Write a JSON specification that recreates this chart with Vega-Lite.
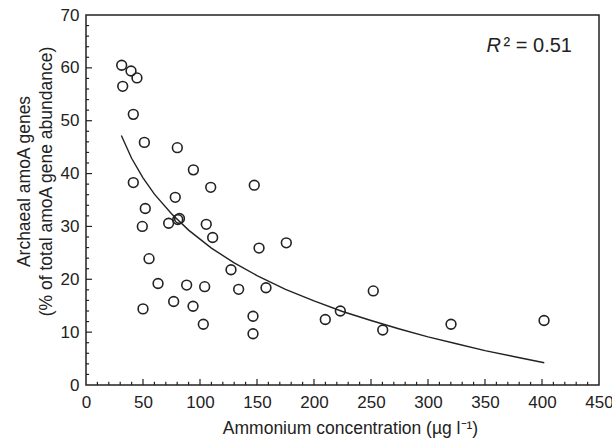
{
  "$schema": "https://vega.github.io/schema/vega-lite/v6.json",
  "width": 513,
  "height": 370,
  "autosize": {"type": "none"},
  "padding": {"left": 86, "top": 15, "right": 13, "bottom": 56},
  "background": "white",
  "config": {
    "view": {"stroke": "#222", "strokeWidth": 1.5},
    "font": "Liberation Sans",
    "axis": {
      "grid": false,
      "ticks": false,
      "domain": false,
      "labelColor": "#222",
      "titleColor": "#222",
      "labelFontSize": 17,
      "titleFontSize": 17.5,
      "titleFontWeight": "normal",
      "labelOverlap": false,
      "labelFlush": false
    }
  },
  "datasets": {
    "pts": [
      {"ammonium": 31.3, "archaeal": 60.5},
      {"ammonium": 39.5, "archaeal": 59.4},
      {"ammonium": 44.7, "archaeal": 58.1},
      {"ammonium": 32.2, "archaeal": 56.5},
      {"ammonium": 41.5, "archaeal": 51.2},
      {"ammonium": 51.2, "archaeal": 45.9},
      {"ammonium": 80.1, "archaeal": 44.9},
      {"ammonium": 94.2, "archaeal": 40.7},
      {"ammonium": 41.5, "archaeal": 38.3},
      {"ammonium": 109.4, "archaeal": 37.4},
      {"ammonium": 147.6, "archaeal": 37.8},
      {"ammonium": 78.3, "archaeal": 35.5},
      {"ammonium": 52.0, "archaeal": 33.4},
      {"ammonium": 49.4, "archaeal": 30.0},
      {"ammonium": 72.5, "archaeal": 30.6},
      {"ammonium": 80.5, "archaeal": 31.3},
      {"ammonium": 82.0, "archaeal": 31.5},
      {"ammonium": 105.5, "archaeal": 30.4},
      {"ammonium": 111.1, "archaeal": 27.9},
      {"ammonium": 55.3, "archaeal": 23.9},
      {"ammonium": 63.2, "archaeal": 19.2},
      {"ammonium": 88.3, "archaeal": 18.9},
      {"ammonium": 104.1, "archaeal": 18.6},
      {"ammonium": 127.2, "archaeal": 21.8},
      {"ammonium": 133.9, "archaeal": 18.1},
      {"ammonium": 76.9, "archaeal": 15.8},
      {"ammonium": 93.9, "archaeal": 14.9},
      {"ammonium": 50.0, "archaeal": 14.4},
      {"ammonium": 102.9, "archaeal": 11.5},
      {"ammonium": 146.5, "archaeal": 13.0},
      {"ammonium": 146.5, "archaeal": 9.7},
      {"ammonium": 151.8, "archaeal": 25.9},
      {"ammonium": 175.7, "archaeal": 26.9},
      {"ammonium": 157.9, "archaeal": 18.4},
      {"ammonium": 209.9, "archaeal": 12.4},
      {"ammonium": 223.1, "archaeal": 14.0},
      {"ammonium": 252.0, "archaeal": 17.8},
      {"ammonium": 260.3, "archaeal": 10.4},
      {"ammonium": 320.2, "archaeal": 11.5},
      {"ammonium": 401.8, "archaeal": 12.2}
    ],
    "fit": [
      {"ammonium": 31, "archaeal": 47.2},
      {"ammonium": 40, "archaeal": 42.9},
      {"ammonium": 50, "archaeal": 39.2},
      {"ammonium": 60, "archaeal": 36.1},
      {"ammonium": 75, "archaeal": 32.4},
      {"ammonium": 90, "archaeal": 29.3},
      {"ammonium": 110, "archaeal": 25.9},
      {"ammonium": 130, "archaeal": 23.1},
      {"ammonium": 150, "archaeal": 20.7},
      {"ammonium": 175, "archaeal": 18.1},
      {"ammonium": 200, "archaeal": 15.9},
      {"ammonium": 225, "archaeal": 13.9},
      {"ammonium": 250, "archaeal": 12.2},
      {"ammonium": 275, "archaeal": 10.6},
      {"ammonium": 300, "archaeal": 9.1},
      {"ammonium": 325, "archaeal": 7.8},
      {"ammonium": 350, "archaeal": 6.5},
      {"ammonium": 375, "archaeal": 5.4},
      {"ammonium": 402, "archaeal": 4.2}
    ],
    "xmajor": [{"v": 50}, {"v": 100}, {"v": 150}, {"v": 200}, {"v": 250}, {"v": 300}, {"v": 350}, {"v": 400}],
    "xminor": [{"v":10},{"v":20},{"v":30},{"v":40},{"v":60},{"v":70},{"v":80},{"v":90},{"v":110},{"v":120},{"v":130},{"v":140},{"v":160},{"v":170},{"v":180},{"v":190},{"v":210},{"v":220},{"v":230},{"v":240},{"v":260},{"v":270},{"v":280},{"v":290},{"v":310},{"v":320},{"v":330},{"v":340},{"v":360},{"v":370},{"v":380},{"v":390},{"v":410},{"v":420},{"v":430},{"v":440}],
    "ymajor": [{"v": 10}, {"v": 20}, {"v": 30}, {"v": 40}, {"v": 50}, {"v": 60}],
    "yminor": [{"v":2},{"v":4},{"v":6},{"v":8},{"v":12},{"v":14},{"v":16},{"v":18},{"v":22},{"v":24},{"v":26},{"v":28},{"v":32},{"v":34},{"v":36},{"v":38},{"v":42},{"v":44},{"v":46},{"v":48},{"v":52},{"v":54},{"v":56},{"v":58},{"v":62},{"v":64},{"v":66},{"v":68}],
    "note": [{"r": "R", "rest": "² = 0.51"}]
  },
  "resolve": {"axis": {"x": "independent", "y": "independent"}},
  "layer": [
    {
      "data": {"name": "xmajor"},
      "mark": {"type": "rule", "color": "#222", "strokeWidth": 1.2},
      "encoding": {
        "x": {"field": "v", "type": "quantitative", "scale": {"domain": [0, 450], "nice": false, "zero": false}, "axis": null},
        "y": {"datum": 0, "type": "quantitative", "scale": {"domain": [0, 70], "nice": false, "zero": false}, "axis": null},
        "y2": {"datum": 1.15}
      }
    },
    {
      "data": {"name": "xminor"},
      "mark": {"type": "rule", "color": "#222", "strokeWidth": 1.2},
      "encoding": {
        "x": {"field": "v", "type": "quantitative", "scale": {"domain": [0, 450], "nice": false, "zero": false}, "axis": null},
        "y": {"datum": 0, "type": "quantitative", "scale": {"domain": [0, 70], "nice": false, "zero": false}, "axis": null},
        "y2": {"datum": 0.6}
      }
    },
    {
      "data": {"name": "ymajor"},
      "mark": {"type": "rule", "color": "#222", "strokeWidth": 1.2},
      "encoding": {
        "y": {"field": "v", "type": "quantitative", "scale": {"domain": [0, 70], "nice": false, "zero": false}, "axis": null},
        "x": {"datum": 0, "type": "quantitative", "scale": {"domain": [0, 450], "nice": false, "zero": false}, "axis": null},
        "x2": {"datum": 5.3}
      }
    },
    {
      "data": {"name": "yminor"},
      "mark": {"type": "rule", "color": "#222", "strokeWidth": 1.2},
      "encoding": {
        "y": {"field": "v", "type": "quantitative", "scale": {"domain": [0, 70], "nice": false, "zero": false}, "axis": null},
        "x": {"datum": 0, "type": "quantitative", "scale": {"domain": [0, 450], "nice": false, "zero": false}, "axis": null},
        "x2": {"datum": 2.7}
      }
    },
    {
      "data": {"name": "fit"},
      "mark": {"type": "line", "color": "#222", "strokeWidth": 1.4},
      "encoding": {
        "x": {"field": "ammonium", "type": "quantitative", "scale": {"domain": [0, 450], "nice": false, "zero": false}, "axis": null},
        "y": {"field": "archaeal", "type": "quantitative", "scale": {"domain": [0, 70], "nice": false, "zero": false}, "axis": null}
      }
    },
    {
      "data": {"name": "pts"},
      "mark": {"type": "point", "shape": "circle", "filled": false, "size": 95, "stroke": "#222", "strokeWidth": 1.6, "opacity": 1},
      "encoding": {
        "x": {
          "field": "ammonium", "type": "quantitative",
          "scale": {"domain": [0, 450], "nice": false, "zero": false},
          "axis": {
            "orient": "bottom",
            "title": "Ammonium concentration (µg l⁻¹)",
            "values": [0,50,100,150,200,250,300,350,400,450],
            "labelPadding": 9,
            "titlePadding": 9,
            "titleX": 264
          }
        },
        "y": {
          "field": "archaeal", "type": "quantitative",
          "scale": {"domain": [0, 70], "nice": false, "zero": false},
          "axis": {
            "orient": "left",
            "title": ["Archaeal amoA genes", "(% of total amoA gene abundance)"],
            "titleLineHeight": 22,
            "values": [0,10,20,30,40,50,60,70],
            "labelPadding": 7,
            "titlePadding": 5,
            "titleY": 166
          }
        }
      }
    },
    {
      "data": {"name": "note"},
      "mark": {"type": "text", "fontSize": 20, "fontStyle": "italic", "align": "right", "baseline": "middle", "color": "#222"},
      "encoding": {
        "x": {"datum": 364, "type": "quantitative", "scale": {"domain": [0, 450], "nice": false, "zero": false}, "axis": null},
        "y": {"datum": 64.2, "type": "quantitative", "scale": {"domain": [0, 70], "nice": false, "zero": false}, "axis": null},
        "text": {"field": "r"}
      }
    },
    {
      "data": {"name": "note"},
      "mark": {"type": "text", "fontSize": 20, "align": "right", "baseline": "middle", "color": "#222"},
      "encoding": {
        "x": {"datum": 426.3, "type": "quantitative", "scale": {"domain": [0, 450], "nice": false, "zero": false}, "axis": null},
        "y": {"datum": 64.2, "type": "quantitative", "scale": {"domain": [0, 70], "nice": false, "zero": false}, "axis": null},
        "text": {"field": "rest"}
      }
    }
  ]
}
